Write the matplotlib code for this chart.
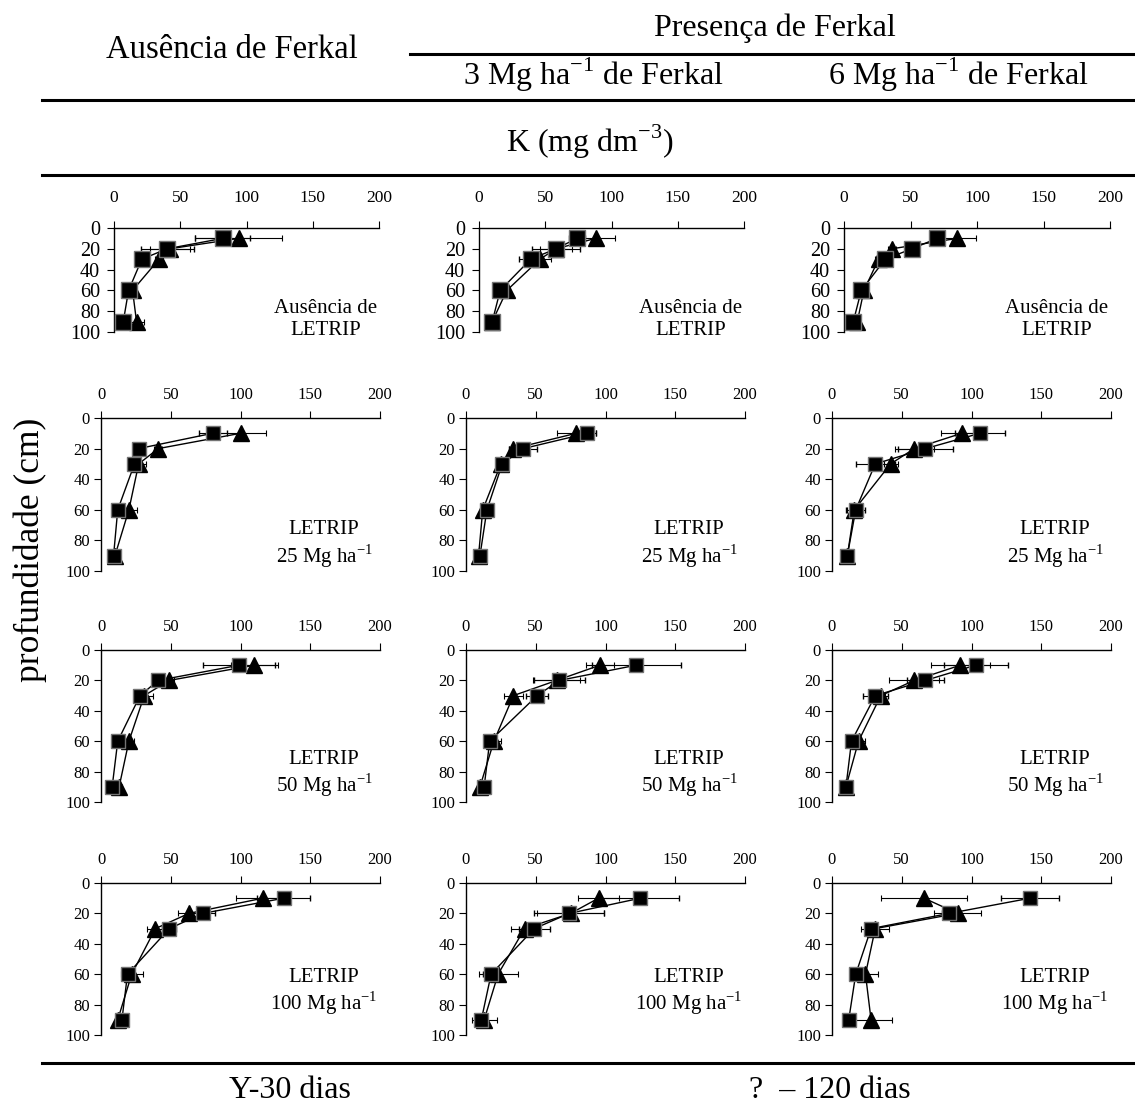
import matplotlib
matplotlib.use("Agg")
import matplotlib.pyplot as plt
from matplotlib.lines import Line2D

plt.rcParams['font.family'] = ['Liberation Serif', 'DejaVu Serif']
plt.rcParams['mathtext.fontset'] = 'custom'
plt.rcParams['mathtext.rm'] = 'Liberation Serif'

W, H = 1135, 1106

# depths (cm) sampled in every panel
depth = [10, 20, 30, 60, 90]

# K (mg dm-3) per panel, rows = LETRIP dose, cols = Ferkal dose
sq_vals = [
    [[82, 40, 21, 11, 7], [74, 58, 39, 16, 10], [70, 51, 31, 13, 7]],
    [[80, 27, 24, 12, 9], [87, 41, 26, 15, 10], [106, 67, 31, 17, 11]],
    [[99, 41, 28, 12, 8], [122, 67, 51, 17, 13], [103, 67, 31, 14, 10]],
    [[131, 73, 49, 19, 15], [125, 74, 49, 18, 11], [142, 84, 28, 17, 12]],
]
sq_err = [
    [[21, 20, 3, 2, 2], [6, 18, 9, 2, 2], [4, 4, 3, 2, 1]],
    [[10, 2, 3, 2, 1], [6, 10, 3, 2, 1], [18, 20, 14, 7, 2]],
    [[26, 3, 3, 2, 2], [32, 18, 8, 3, 2], [23, 13, 9, 3, 2]],
    [[19, 9, 5, 4, 2], [28, 25, 11, 6, 3], [21, 5, 4, 3, 2]],
]
tr_vals = [
    [[94, 42, 34, 14, 17], [88, 58, 46, 21, 10], [85, 36, 26, 15, 10]],
    [[100, 41, 27, 20, 10], [79, 34, 25, 12, 9], [93, 59, 42, 16, 11]],
    [[110, 49, 31, 20, 13], [96, 65, 34, 20, 10], [92, 59, 35, 19, 10]],
    [[116, 63, 39, 22, 12], [95, 75, 42, 23, 13], [66, 90, 31, 24, 28]],
]
tr_err = [
    [[33, 15, 3, 2, 6], [15, 12, 8, 2, 1], [14, 3, 3, 2, 1]],
    [[18, 3, 5, 6, 1], [14, 3, 2, 2, 1], [15, 14, 5, 5, 1]],
    [[17, 3, 6, 4, 2], [10, 17, 7, 5, 2], [21, 18, 3, 5, 1]],
    [[19, 8, 6, 8, 2], [15, 24, 10, 14, 9], [31, 17, 10, 9, 15]],
]

panel_labels = [
    "Ausência de\nLETRIP",
    "LETRIP\n25 Mg ha$^{-1}$",
    "LETRIP\n50 Mg ha$^{-1}$",
    "LETRIP\n100 Mg ha$^{-1}$",
]
label_y = [0.12, 0.17, 0.18, 0.28]

x_ticks = [0, 50, 100, 150, 200]
y_ticks = [0, 20, 40, 60, 80, 100]

# pixel boxes (top, bottom) of each row and (left, right) of columns
row_px = [(228, 332), (418, 571), (650, 802), (883, 1035)]
col_px_first = [(114, 379), (479, 744), (844, 1110)]
col_px = [(101, 380), (466, 745), (832, 1111)]

fig = plt.figure(figsize=(W / 100, H / 100), dpi=100)


def fx(x):
    return x / W


def fy(y):
    return 1 - y / H


for r in range(4):
    top, bot = row_px[r]
    cols = col_px_first if r == 0 else col_px
    for c in range(3):
        left, right = cols[c]
        ax = fig.add_axes([fx(left), fy(bot), (right - left) / W, (bot - top) / H])

        ax.errorbar(tr_vals[r][c], depth, xerr=tr_err[r][c], fmt='-^', color='black',
                    lw=1, ms=11, mfc='black', mec='black', elinewidth=0.8,
                    capsize=2, capthick=0.8, zorder=3)
        ax.errorbar(sq_vals[r][c], depth, xerr=sq_err[r][c], fmt='-s', color='black',
                    lw=1, ms=11.5 if r == 0 else 10.5, mfc='black', mec='0.45', mew=1.0,
                    elinewidth=0.8, capsize=2, capthick=0.8, zorder=4)

        ax.set_xlim(0, 200)
        ax.set_ylim(100, 0)
        ax.set_xticks(x_ticks)
        ax.set_yticks(y_ticks)
        ax.xaxis.tick_top()
        ax.spines['right'].set_visible(False)
        ax.spines['bottom'].set_visible(False)
        ax.spines['top'].set_linewidth(1)
        ax.spines['left'].set_linewidth(1)
        if r == 0:
            ax.tick_params(axis='x', labelsize=12.5, length=5, pad=11)
            ax.tick_params(axis='y', labelsize=14.5, length=5, pad=5)
        else:
            ax.tick_params(axis='x', labelsize=12, length=5, pad=6)
            ax.tick_params(axis='y', labelsize=12, length=5, pad=3)
        ax.patch.set_alpha(0)

        ax.text(0.80, label_y[r], panel_labels[r], transform=ax.transAxes,
                ha='center', va='center', fontsize=15, linespacing=1.15)

# header texts
fig.text(fx(232), fy(50), "Ausência de Ferkal", ha='center', va='center', fontsize=23.5)
fig.text(fx(775), fy(28), "Presença de Ferkal", ha='center', va='center', fontsize=23)
fig.text(fx(594), fy(75), "3 Mg ha$^{-1}$ de Ferkal", ha='center', va='center', fontsize=23)
fig.text(fx(959), fy(75), "6 Mg ha$^{-1}$ de Ferkal", ha='center', va='center', fontsize=23)
fig.text(fx(590), fy(142), "K (mg dm$^{-3}$)", ha='center', va='center', fontsize=23)
fig.text(fx(30), fy(550), "profundidade (cm)", ha='center', va='center', rotation=90, fontsize=25.5)
fig.text(fx(290), fy(1090), "Y-30 dias", ha='center', va='center', fontsize=23)
fig.text(fx(830), fy(1090), "?  – 120 dias", ha='center', va='center', fontsize=23)

# separator rules
for x0, x1, y in [(410, 1135, 54), (42, 1135, 100), (42, 1135, 175), (42, 1135, 1063)]:
    fig.add_artist(Line2D([fx(x0), fx(x1)], [fy(y), fy(y)], color='black', lw=2.2,
                          transform=fig.transFigure))

fig.savefig("out.png", dpi=100)
